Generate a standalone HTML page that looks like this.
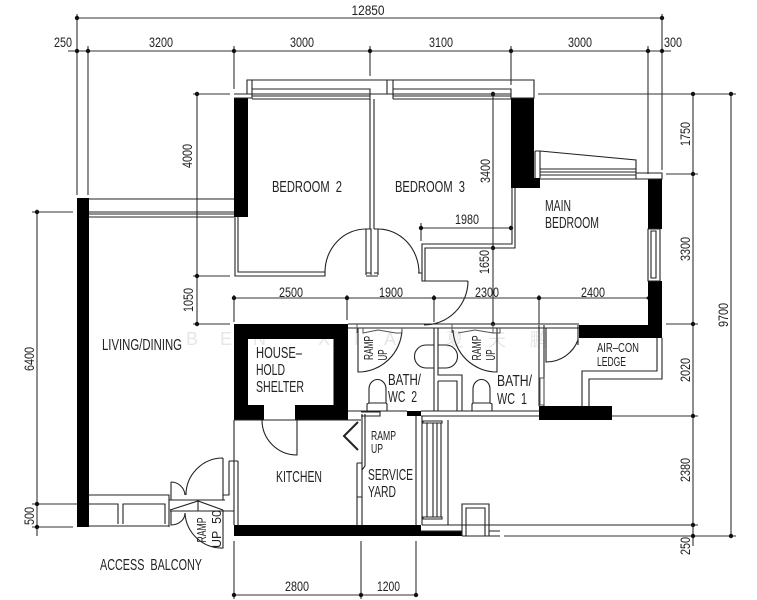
<!DOCTYPE html>
<html><head><meta charset="utf-8"><style>
html,body{margin:0;padding:0;background:#fff;width:757px;height:600px;overflow:hidden}
svg{display:block;filter:blur(.35px)}
text{font-family:"Liberation Sans","Noto Sans CJK SC",sans-serif;font-size:14px;fill:#222}
.r{font-size:16px}
.s{font-size:13px}
.w{font-size:18px;fill:#e6e6e6}
.l{fill:none;stroke:#222;stroke-width:1.1}
.d{fill:none;stroke:#333;stroke-width:1.1}
.g{fill:none;stroke:#555;stroke-width:1}
</style></head><body>
<svg width="757" height="600" viewBox="0 0 757 600" xmlns="http://www.w3.org/2000/svg">
<!-- watermark -->
<g>
<text class="w" x="186" y="345">B</text><text class="w" x="220" y="345">E</text><text class="w" x="253" y="345">N</text><text class="w" x="318" y="345">X</text><text class="w" x="354" y="345">I</text><text class="w" x="384" y="345">A</text>
<text class="w" x="446" y="346">夏</text><text class="w" x="488" y="346">天</text><text class="w" x="530" y="346">鹏</text>
</g>
<!-- dimension lines -->
<path class="d" d="M77 18H662M68 51H671M77 14V195M88 46V195M234 46V89M370 46V76M511 46V85M648 46V174M662 14V170
M193 94H230M193 276H230M193 324H230M197 94V324
M32 212H73M32 504H77M32 527H73M37 212V536
M538 94H736M666 174H698M666 324H698M612 416H698M463 525H698M504 536H736M693 94V546M731 94V536
M234 298H648M234 295V322M347 295V320M434 295V322M539 295V324M493 94V324M421 228H511M421 223V241
M234 541V599M361 541V599M416 541V597M234 595H416"/>
<g fill="#111">
<circle cx="77" cy="18" r="2.2"/><circle cx="662" cy="18" r="2.2"/>
<circle cx="77" cy="51" r="2.2"/><circle cx="88" cy="51" r="2.2"/><circle cx="234" cy="51" r="2.2"/><circle cx="370" cy="51" r="2.2"/><circle cx="511" cy="51" r="2.2"/><circle cx="648" cy="51" r="2.2"/><circle cx="662" cy="51" r="2.2"/>
<circle cx="197" cy="94" r="2.2"/><circle cx="197" cy="276" r="2.2"/><circle cx="197" cy="324" r="2.2"/>
<circle cx="37" cy="212" r="2.2"/><circle cx="37" cy="504" r="2.2"/><circle cx="37" cy="527" r="2.2"/>
<circle cx="693" cy="94" r="2.2"/><circle cx="731" cy="94" r="2.2"/><circle cx="693" cy="174" r="2.2"/><circle cx="693" cy="324" r="2.2"/><circle cx="693" cy="416" r="2.2"/><circle cx="693" cy="525" r="2.2"/><circle cx="693" cy="536" r="2.2"/><circle cx="731" cy="536" r="2.2"/>
<circle cx="234" cy="298" r="2.2"/><circle cx="347" cy="298" r="2.2"/><circle cx="434" cy="298" r="2.2"/><circle cx="539" cy="298" r="2.2"/><circle cx="648" cy="298" r="1.5"/>
<circle cx="493" cy="94" r="2.2"/><circle cx="493" cy="248" r="2.2"/><circle cx="493" cy="324" r="2.2"/><circle cx="421" cy="228" r="2.2"/><circle cx="511" cy="228" r="2.2"/>
<circle cx="234" cy="595" r="2.2"/><circle cx="361" cy="595" r="2.2"/><circle cx="416" cy="595" r="2.2"/>
</g>
<!-- black walls -->
<g fill="#000">
<rect x="77" y="198" width="12" height="329"/>
<rect x="234" y="98" width="14" height="119"/>
<rect x="511" y="98" width="23" height="90"/><rect x="534" y="178" width="6" height="10"/>
<rect x="648" y="179" width="14" height="50"/><rect x="648" y="281" width="14" height="57"/>
<rect x="579" y="325" width="83" height="13"/>
<path fill-rule="evenodd" d="M234 324H348V420H295V405H333.500V339H248V405H264V420H234Z"/>
<rect x="539" y="406" width="73" height="14"/>
<rect x="407" y="411" width="14" height="5"/>
<path d="M234 525H421V531H462V536H234Z"/>
</g>
<!-- bedroom wing outlines -->
<path class="l" d="M234 94H252V98H234M247 94V80H534V98H511M252 80V98M252 89H370V99M252 94H393M252 96H370M252 99H370M387 80V94M393 80V99M393 89H511V99M393 94H511M393 96H511M393 99H511"/>
<path class="l" d="M89 199H234M89 212H234M89 214H234M89 217H234"/>
<path class="l" d="M235 217V276H325V272H238V217M370 99V229M374 99V229M366 229H371V275M374 229H378V275M366 229V275M366 273H371M374 273H378M366 276H378"/>
<path class="l" d="M325 272A41 43 0 0 1 366 229M378 229A41 44 0 0 1 419 273"/>
<path class="l" d="M512 188V244H422V281H468M515 188V248H425V281M418 273H422V281"/>
<path class="l" d="M468 281A44 44 0 0 1 424 325"/>
<!-- main bedroom window -->
<path class="l" d="M535 151V178M540 151V178M535 151H540L636 160V179M540 169H636M540 172H636M540 175H636M540 179H636M636 173H662V179H636"/>
<path class="l" d="M648 229H660V281H648ZM651 231H656V278H651Z"/>
<!-- bath block -->
<path class="l" d="M348 324H579M348 328H579M348 411H407M421 411H539M421 416H539M348 420H361"/>
<path class="l" d="M434 328V411M438 328V375H462V411M438 381H457V411M438 381V411"/>
<path class="l" d="M539 325V406M544 325V406M544 328H578M578 325V345"/>
<path class="g" d="M540 378H544V405H540Z"/>
<path class="l" d="M546 328V362A34 34 0 0 0 578 340"/>
<path class="l" d="M582 406V371H657V338M589 406V379H662V338"/>
<!-- bath doors -->
<path class="l" d="M358 328V372A44 44 0 0 0 402 330M497 328V372A44 44 0 0 1 453 330"/>
<path class="g" d="M357 324V333M363 328V333L378 330M402 328V333H396L378 330M452 324V333M458 333L475 330M493 324V333M500 328V333H493L475 330"/>
<!-- basins -->
<path class="l" d="M434 345H426A11.500 11.500 0 0 0 426 368H434M438 345H446A11.500 11.500 0 0 1 446 368H438"/>
<!-- toilets -->
<path class="l" d="M369 403V389A8.500 9.500 0 0 1 386 389V403M367 411V404L369 403H386L387 404V411"/>
<path class="l" d="M473 403V389A8.500 9.500 0 0 1 490 389V403M472 411V404L473 403H490L492 404V411"/>
<!-- kitchen / shelter door -->
<path class="l" d="M234 420V525M234 420H361M297 420V455A35 35 0 0 1 262 420"/>
<path class="l" d="M238 461V525M229 461H238M229 461V495H223M223 458V500M223 458A37 37 0 0 0 186 495"/>
<path class="l" d="M171 482V500M171 482A14 14 0 0 1 185 495M171 511V525A14 12 0 0 0 185 513"/>
<path class="l" d="M169 500H225M170 511H234M170 510L198 501L223 510M198 501V511"/>
<path class="l" d="M223 510V548A37 37 0 0 1 185 513"/>
<!-- balcony railing -->
<path class="l" d="M89 495H169V527M89 504H118V524M123 524V504H165V524M89 526H169"/>
<!-- service yard -->
<path class="l" d="M357 463V525M362 414V525M357 497H362M357 463H362M365 414V466L362 470"/>
<path d="M358 422L344 436L358 450" fill="none" stroke="#222" stroke-width="2"/>
<path class="l" d="M361 412H380V416H361M380 411H407"/>
<path class="l" d="M416 416V525M422 416V525M448 420V525M422 525H463M421 531H462"/>
<path class="l" d="M423 421H442V423H423ZM423 517H442V519H423ZM427 423V517M433 423V517M437 423V517M441 423V517"/>
<path class="l" d="M462 536V504H489V536M466 536V508H485V536M463 525H693M462 536H500M489 531H500"/>
<!-- dimension text -->
<text x="368" y="15" text-anchor="middle" textLength="33" lengthAdjust="spacingAndGlyphs">12850</text>
<text x="54" y="47" textLength="18" lengthAdjust="spacingAndGlyphs">250</text>
<text x="149" y="47" textLength="24" lengthAdjust="spacingAndGlyphs">3200</text>
<text x="290" y="47" textLength="24" lengthAdjust="spacingAndGlyphs">3000</text>
<text x="429" y="47" textLength="24" lengthAdjust="spacingAndGlyphs">3100</text>
<text x="568" y="47" textLength="24" lengthAdjust="spacingAndGlyphs">3000</text>
<text x="664" y="47" textLength="18" lengthAdjust="spacingAndGlyphs">300</text>
<text x="279" y="297" textLength="24" lengthAdjust="spacingAndGlyphs">2500</text>
<text x="379" y="297" textLength="24" lengthAdjust="spacingAndGlyphs">1900</text>
<text x="475" y="297" textLength="24" lengthAdjust="spacingAndGlyphs">2300</text>
<text x="581" y="297" textLength="24" lengthAdjust="spacingAndGlyphs">2400</text>
<text x="455" y="224" textLength="24" lengthAdjust="spacingAndGlyphs">1980</text>
<text x="285" y="591" textLength="24" lengthAdjust="spacingAndGlyphs">2800</text>
<text x="377" y="591" textLength="23" lengthAdjust="spacingAndGlyphs">1200</text>
<g text-anchor="middle">
<text transform="translate(192,156) rotate(-90)" textLength="24" lengthAdjust="spacingAndGlyphs">4000</text>
<text transform="translate(193,300) rotate(-90)" textLength="24" lengthAdjust="spacingAndGlyphs">1050</text>
<text transform="translate(490,171) rotate(-90)" textLength="24" lengthAdjust="spacingAndGlyphs">3400</text>
<text transform="translate(489,262) rotate(-90)" textLength="24" lengthAdjust="spacingAndGlyphs">1650</text>
<text transform="translate(690,134) rotate(-90)" textLength="24" lengthAdjust="spacingAndGlyphs">1750</text>
<text transform="translate(690,249) rotate(-90)" textLength="24" lengthAdjust="spacingAndGlyphs">3300</text>
<text transform="translate(728,315) rotate(-90)" textLength="24" lengthAdjust="spacingAndGlyphs">9700</text>
<text transform="translate(690,370) rotate(-90)" textLength="24" lengthAdjust="spacingAndGlyphs">2020</text>
<text transform="translate(690,470) rotate(-90)" textLength="24" lengthAdjust="spacingAndGlyphs">2380</text>
<text transform="translate(690,546) rotate(-90)" textLength="18" lengthAdjust="spacingAndGlyphs">250</text>
<text transform="translate(34,359) rotate(-90)" textLength="24" lengthAdjust="spacingAndGlyphs">6400</text>
<text transform="translate(34,516) rotate(-90)" textLength="18" lengthAdjust="spacingAndGlyphs">500</text>
<text class="s" transform="translate(373,348) rotate(-90)" textLength="24" lengthAdjust="spacingAndGlyphs">RAMP</text>
<text class="s" transform="translate(387,355) rotate(-90)" textLength="11" lengthAdjust="spacingAndGlyphs">UP</text>
<text class="s" transform="translate(481,348) rotate(-90)" textLength="25" lengthAdjust="spacingAndGlyphs">RAMP</text>
<text class="s" transform="translate(495,355) rotate(-90)" textLength="11" lengthAdjust="spacingAndGlyphs">UP</text>
<text class="s" transform="translate(206,530) rotate(-90)" textLength="25" lengthAdjust="spacingAndGlyphs">RAMP</text>
<text class="s" transform="translate(221,529) rotate(-90)" textLength="38" lengthAdjust="spacingAndGlyphs" xml:space="preserve">UP  50</text>
</g>
<!-- room labels -->
<text class="r" x="272" y="192" textLength="70" lengthAdjust="spacingAndGlyphs" xml:space="preserve">BEDROOM  2</text>
<text class="r" x="395" y="192" textLength="70" lengthAdjust="spacingAndGlyphs" xml:space="preserve">BEDROOM  3</text>
<text class="r" x="545" y="211" textLength="26" lengthAdjust="spacingAndGlyphs">MAIN</text>
<text class="r" x="545" y="228" textLength="54" lengthAdjust="spacingAndGlyphs">BEDROOM</text>
<text class="r" x="102" y="350" textLength="80" lengthAdjust="spacingAndGlyphs">LIVING/DINING</text>
<text class="r" x="256" y="358" textLength="46" lengthAdjust="spacingAndGlyphs">HOUSE–</text>
<text class="r" x="256" y="375" textLength="29" lengthAdjust="spacingAndGlyphs">HOLD</text>
<text class="r" x="256" y="392" textLength="48" lengthAdjust="spacingAndGlyphs">SHELTER</text>
<text class="r" x="276" y="482" textLength="46" lengthAdjust="spacingAndGlyphs">KITCHEN</text>
<text class="r" x="100" y="570" textLength="102" lengthAdjust="spacingAndGlyphs" xml:space="preserve">ACCESS  BALCONY</text>
<text class="s" x="371" y="440" textLength="25" lengthAdjust="spacingAndGlyphs">RAMP</text>
<text class="s" x="371" y="453" textLength="12" lengthAdjust="spacingAndGlyphs">UP</text>
<text class="r" x="368" y="480" textLength="45" lengthAdjust="spacingAndGlyphs">SERVICE</text>
<text class="r" x="368" y="497" textLength="28" lengthAdjust="spacingAndGlyphs">YARD</text>
<text class="r" x="388" y="385" textLength="33" lengthAdjust="spacingAndGlyphs">BATH/</text>
<text class="r" x="388" y="402" textLength="29" lengthAdjust="spacingAndGlyphs" xml:space="preserve">WC  2</text>
<text class="r" x="497" y="386" textLength="35" lengthAdjust="spacingAndGlyphs">BATH/</text>
<text class="r" x="497" y="404" textLength="30" lengthAdjust="spacingAndGlyphs" xml:space="preserve">WC  1</text>
<text class="s" x="597" y="352" textLength="42" lengthAdjust="spacingAndGlyphs">AIR–CON</text>
<text class="s" x="597" y="366" textLength="29" lengthAdjust="spacingAndGlyphs">LEDGE</text>
</svg>
</body></html>
